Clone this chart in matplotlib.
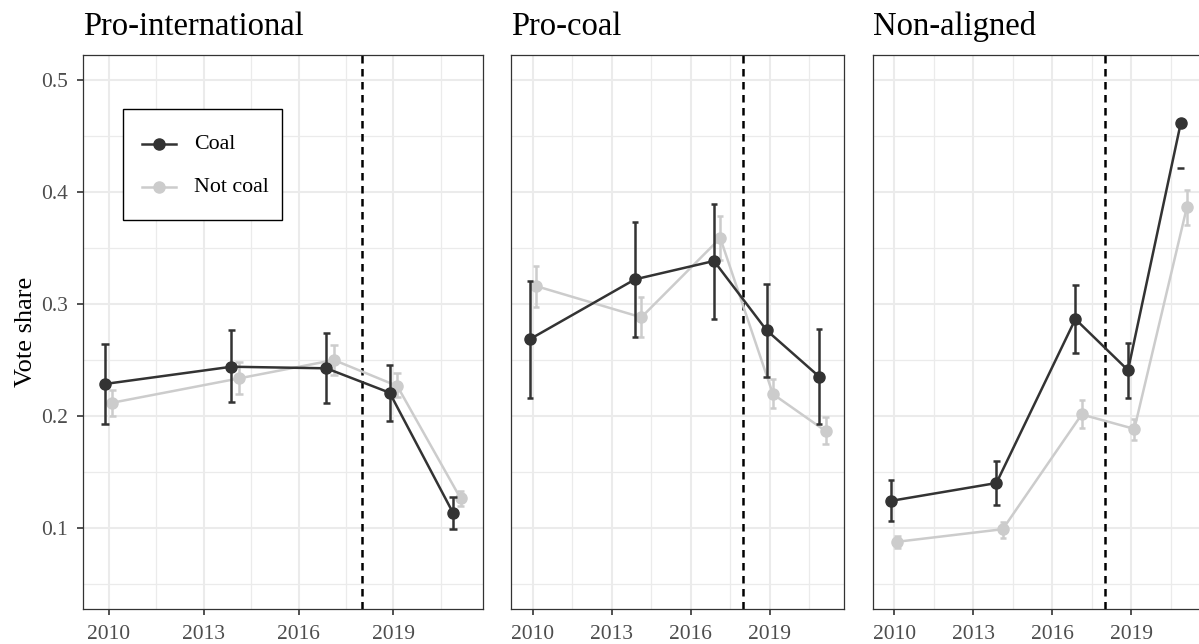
import numpy as np
import matplotlib
matplotlib.use("Agg")
import matplotlib.pyplot as plt
from matplotlib.patches import Rectangle

plt.rcParams["font.family"] = ["Liberation Serif", "DejaVu Serif"]

# election years, vertical marker year and facet titles
years = np.array([2010, 2014, 2017, 2019, 2021])
event_year = 2018
panels = ["Pro-international", "Pro-coal", "Non-aligned"]
groups = ["Coal", "Not coal"]

# estimated vote share with 95% intervals (lo / hi), per facet
coal_mean = {
    "Pro-international": [0.2286, 0.2440, 0.2426, 0.2208, 0.1137],
    "Pro-coal": [0.2685, 0.3220, 0.3384, 0.2765, 0.2351],
    "Non-aligned": [0.1243, 0.1402, 0.2865, 0.2409, 0.4611],
}
coal_lo = {
    "Pro-international": [0.1926, 0.2122, 0.2113, 0.1955, 0.0990],
    "Pro-coal": [0.2164, 0.2703, 0.2866, 0.2345, 0.1929],
    "Non-aligned": [0.1060, 0.1203, 0.2561, 0.2162, 0.4216],
}
coal_hi = {
    "Pro-international": [0.2643, 0.2764, 0.2738, 0.2455, 0.1280],
    "Pro-coal": [0.3205, 0.3736, 0.3895, 0.3179, 0.2777],
    "Non-aligned": [0.1429, 0.1598, 0.3169, 0.2655, np.nan],  # upper bound beyond scale
}
notcoal_mean = {
    "Pro-international": [0.2119, 0.2336, 0.2500, 0.2268, 0.1265],
    "Pro-coal": [0.3160, 0.2881, 0.3588, 0.2196, 0.1866],
    "Non-aligned": [0.0878, 0.0990, 0.2014, 0.1885, 0.3868],
}
notcoal_lo = {
    "Pro-international": [0.2000, 0.2196, 0.2366, 0.2173, 0.1196],
    "Pro-coal": [0.2970, 0.2703, 0.3390, 0.2069, 0.1747],
    "Non-aligned": [0.0818, 0.0912, 0.1892, 0.1784, 0.3709],
}
notcoal_hi = {
    "Pro-international": [0.2232, 0.2480, 0.2634, 0.2381, 0.1333],
    "Pro-coal": [0.3342, 0.3060, 0.3787, 0.2327, 0.1988],
    "Non-aligned": [0.0932, 0.1057, 0.2139, 0.1970, 0.4020],
}

COAL = "#333333"
NOTCOAL = "#CCCCCC"
GRID = "#EBEBEB"
BORDER = "#333333"
DODGE = 0.12
CAP = 0.12
LW = 1.8
MS = 8

fig = plt.figure(figsize=(11.99, 6.44), dpi=100)
W, H = 1199, 644
# panel boxes in pixels: left, right ; all share top/bottom
boxes = [(82.7, 482.7), (511.3, 844.0), (872.7, 1205.4)]
top, bottom = 54.7, 609.3


def draw_series(ax, x, mean, lo, hi, color, z):
    x = np.asarray(x, float)
    mean, lo, hi = map(lambda a: np.asarray(a, float), (mean, lo, hi))
    ax.plot(x, mean, color=color, lw=LW, zorder=z)
    ok = ~np.isnan(hi)
    ax.vlines(x[ok], lo[ok], hi[ok], color=color, lw=LW, zorder=z)
    ax.hlines(hi[ok], x[ok] - CAP, x[ok] + CAP, color=color, lw=LW, zorder=z)
    ax.hlines(lo, x - CAP, x + CAP, color=color, lw=LW, zorder=z)
    ax.plot(x, mean, "o", color=color, ms=MS, zorder=z + 0.5)


def add_key(ax, l, r):
    # boxed key placed in pixel terms inside the first panel
    fx = lambda px: (px - l) / (r - l)
    fy = lambda py: 1 - (py - top) / (bottom - top)
    ax.add_patch(Rectangle((fx(123), fy(220)), fx(282) - fx(123), fy(109) - fy(220),
                           transform=ax.transAxes, facecolor="white",
                           edgecolor="black", lw=1.0, zorder=5))
    for label, color, py in zip(groups, [COAL, NOTCOAL], [144, 187]):
        ax.plot([fx(142), fx(176)], [fy(py)] * 2, color=color, lw=LW,
                transform=ax.transAxes, zorder=6)
        ax.plot([fx(159)], [fy(py)], "o", color=color, ms=MS,
                transform=ax.transAxes, zorder=6)
        ax.text(fx(194), fy(py), label, fontsize=15.8, va="center", ha="left",
                transform=ax.transAxes, zorder=6)


for i, (name, (l, r)) in enumerate(zip(panels, boxes)):
    ax = fig.add_axes([l / W, 1 - bottom / H, (r - l) / W, (bottom - top) / H])
    ax.set_xlim(2009.18, 2021.82)
    ax.set_ylim(0.0275, 0.5225)
    ax.set_xticks([2010, 2013, 2016, 2019])
    ax.set_xticks([2011.5, 2014.5, 2017.5, 2020.5], minor=True)
    ax.set_yticks([0.1, 0.2, 0.3, 0.4, 0.5])
    ax.set_yticks([0.05, 0.15, 0.25, 0.35, 0.45], minor=True)
    ax.grid(which="major", color=GRID, lw=1.5, zorder=0)
    ax.grid(which="minor", color=GRID, lw=0.9, zorder=0)
    ax.set_axisbelow(True)
    for s in ax.spines.values():
        s.set_color(BORDER)
        s.set_linewidth(0.9)
    ax.tick_params(which="major", length=4, width=1.2, color=BORDER,
                   labelcolor="#4D4D4D", labelsize=15.5)
    ax.tick_params(axis="x", pad=7.5)
    ax.tick_params(axis="y", pad=6.5)
    ax.tick_params(which="minor", length=0)
    if i == 0:
        ax.set_yticklabels(["0.1", "0.2", "0.3", "0.4", "0.5"])
        ax.set_ylabel("Vote share", fontsize=19, labelpad=3)
    else:
        ax.tick_params(axis="y", which="both", left=False, labelleft=False)

    ax.axvline(event_year, color="black", lw=1.8, ls=(0, (3, 2.2)), zorder=1)

    draw_series(ax, years + DODGE, notcoal_mean[name], notcoal_lo[name],
                notcoal_hi[name], NOTCOAL, 2)
    draw_series(ax, years - DODGE, coal_mean[name], coal_lo[name],
                coal_hi[name], COAL, 3)

    ax.set_title(name, loc="left", fontsize=23.5, pad=14.5, color="black")

    if i == 0:
        add_key(ax, l, r)

fig.savefig("out.png", dpi=100)
